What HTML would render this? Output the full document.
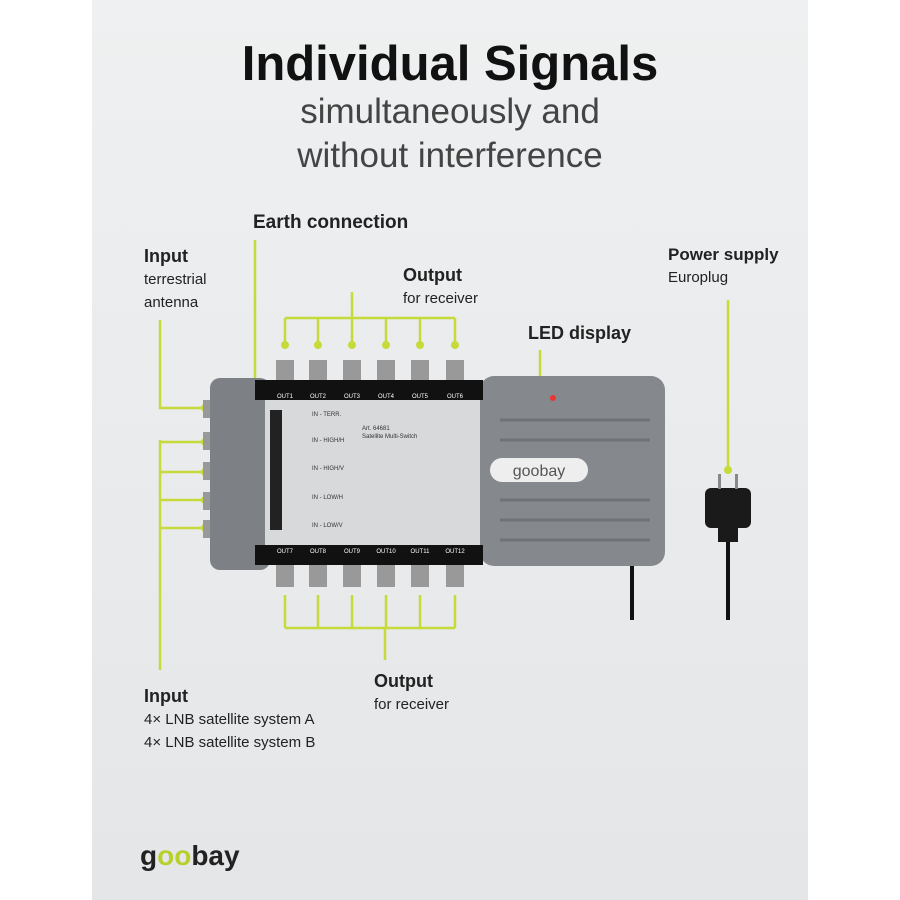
<!DOCTYPE html><html><head><style>
body{margin:0;width:900px;height:900px;background:#fff;font-family:"Liberation Sans",sans-serif;position:relative;overflow:hidden}
.p{position:absolute;left:92px;top:0;width:716px;height:900px;background:linear-gradient(#eef0f1,#e4e6e8)}
.t{position:absolute;left:0;width:900px;text-align:center;color:#111}
.l{position:absolute;font-size:17px;color:#222;line-height:22px}
.l b{font-size:18px}
</style></head><body>
<div class="p"></div>
<div class="t" style="top:36px;font-size:49px;font-weight:bold">Individual Signals</div>
<div class="t" style="top:90px;font-size:35px;color:#444;line-height:44px">simultaneously and<br>without interference</div>
<div class="l" style="left:253px;top:212px"><b style="font-size:19px">Earth connection</b></div>
<div class="l" style="left:144px;top:245px"><b>Input</b><br><span style="font-size:15px">terrestrial<br>antenna</span></div>
<div class="l" style="left:403px;top:264px"><b>Output</b><br><span style="font-size:15px">for receiver</span></div>
<div class="l" style="left:528px;top:322px"><b>LED display</b></div>
<div class="l" style="left:668px;top:244px"><b style="font-size:17px">Power supply</b><br><span style="font-size:15px">Europlug</span></div>
<div class="l" style="left:374px;top:670px"><b>Output</b><br><span style="font-size:15px">for receiver</span></div>
<div class="l" style="left:144px;top:685px"><b>Input</b><br><span style="font-size:15px">4× LNB satellite system A<br>4× LNB satellite system B</span></div>
<div style="position:absolute;left:140px;top:840px;font-size:28px;font-weight:bold;color:#222">g<span style="color:#b8cf2e">oo</span>bay</div>
<svg width="900" height="900" style="position:absolute;left:0;top:0">
<g stroke="#c6da3a" stroke-width="2.5" fill="none">
<path d="M255 240V408H232M160 320V408H205M160 440V670M160 442H205M160 472H205M160 500H205M160 528H205M352 292V318M285 318H455M285 318V345M318 318V345M352 318V345M386 318V345M420 318V345M455 318V345M540 350V395M728 300V470M285 628H455M285 595V628M318 595V628M352 595V628M386 595V628M420 595V628M455 595V628M385 628V660"/>
</g>
<g fill="#c6da3a"><circle cx="232" cy="408" r="4"/><circle cx="205" cy="408" r="4"/><circle cx="205" cy="442" r="4"/><circle cx="205" cy="472" r="4"/><circle cx="205" cy="500" r="4"/><circle cx="205" cy="528" r="4"/><circle cx="728" cy="470" r="4"/><circle cx="285" cy="345" r="4"/><circle cx="318" cy="345" r="4"/><circle cx="352" cy="345" r="4"/><circle cx="386" cy="345" r="4"/><circle cx="420" cy="345" r="4"/><circle cx="455" cy="345" r="4"/></g>
<path d="M632 565V620" stroke="#111" stroke-width="4" fill="none"/>
<path d="M728 540V620" stroke="#111" stroke-width="4"/>
<g fill="#999"><rect x="276" y="360" width="18" height="22"/><rect x="309" y="360" width="18" height="22"/><rect x="343" y="360" width="18" height="22"/><rect x="377" y="360" width="18" height="22"/><rect x="411" y="360" width="18" height="22"/><rect x="446" y="360" width="18" height="22"/>
<rect x="276" y="563" width="18" height="24"/><rect x="309" y="563" width="18" height="24"/><rect x="343" y="563" width="18" height="24"/><rect x="377" y="563" width="18" height="24"/><rect x="411" y="563" width="18" height="24"/><rect x="446" y="563" width="18" height="24"/>
<rect x="203" y="400" width="12" height="18"/><rect x="203" y="432" width="12" height="18"/><rect x="203" y="462" width="12" height="18"/><rect x="203" y="492" width="12" height="18"/><rect x="203" y="520" width="12" height="18"/></g>
<rect x="210" y="378" width="60" height="192" rx="10" fill="#7d8185"/>
<rect x="480" y="376" width="185" height="190" rx="14" fill="#85898d"/>
<g stroke="#6f7377" stroke-width="3"><path d="M500 420H650M500 440H650M500 500H650M500 520H650M500 540H650"/></g>
<rect x="490" y="458" width="98" height="24" rx="12" fill="#eee"/>
<text x="539" y="476" font-size="16" text-anchor="middle" fill="#555" font-family="Liberation Sans">goobay</text>
<circle cx="553" cy="398" r="3" fill="#e33"/>
<rect x="255" y="380" width="228" height="20" fill="#111"/>
<rect x="255" y="545" width="228" height="20" fill="#111"/>
<rect x="265" y="400" width="215" height="145" fill="#d7d9db"/>
<rect x="270" y="410" width="12" height="120" fill="#222"/>
<g font-size="6" fill="#fff" text-anchor="middle" font-family="Liberation Sans"><text x="285" y="398">OUT1</text><text x="318" y="398">OUT2</text><text x="352" y="398">OUT3</text><text x="386" y="398">OUT4</text><text x="420" y="398">OUT5</text><text x="455" y="398">OUT6</text>
<text x="285" y="553">OUT7</text><text x="318" y="553">OUT8</text><text x="352" y="553">OUT9</text><text x="386" y="553">OUT10</text><text x="420" y="553">OUT11</text><text x="455" y="553">OUT12</text></g>
<g font-size="6" fill="#333" font-family="Liberation Sans"><text x="312" y="416">IN - TERR.</text><text x="312" y="442">IN - HIGH/H</text><text x="312" y="470">IN - HIGH/V</text><text x="312" y="499">IN - LOW/H</text><text x="312" y="527">IN - LOW/V</text><text x="362" y="430">Art. 64681</text><text x="362" y="438">Satellite Multi-Switch</text></g>
<rect x="705" y="488" width="46" height="40" rx="6" fill="#1a1a1a"/>
<rect x="718" y="528" width="20" height="14" fill="#1a1a1a"/>
<rect x="718" y="474" width="3" height="15" fill="#888"/><rect x="735" y="474" width="3" height="15" fill="#888"/>
</svg>
</body></html>
